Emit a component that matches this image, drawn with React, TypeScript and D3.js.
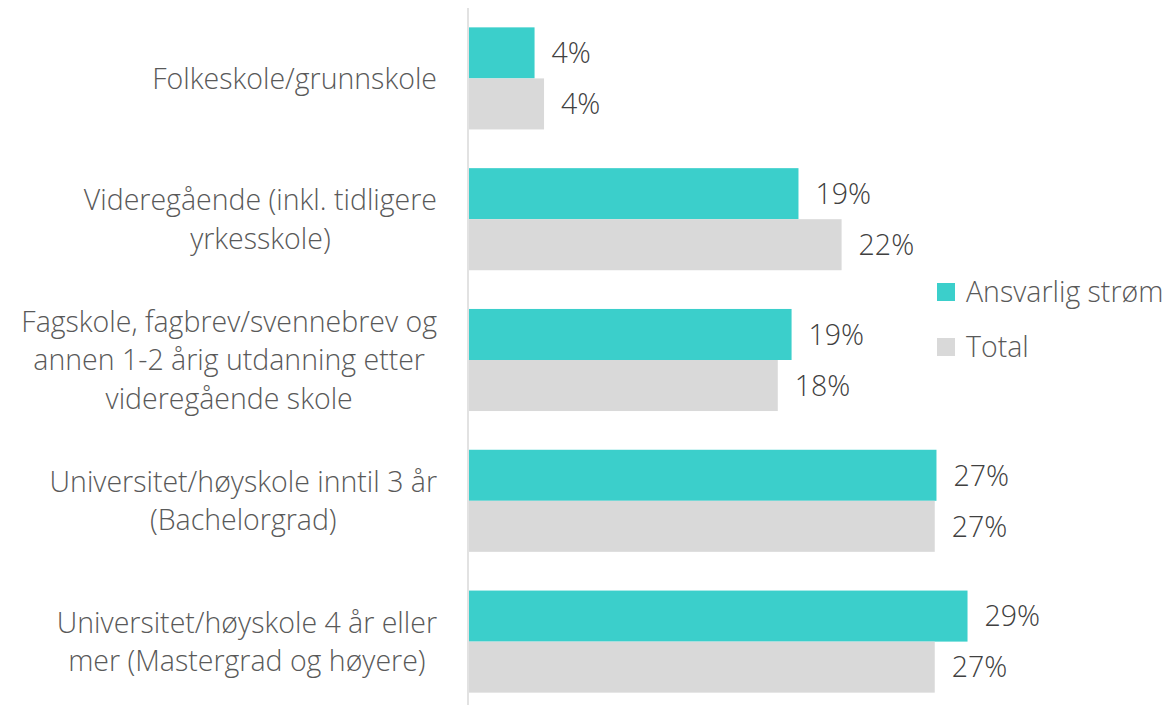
import React, { useEffect, useRef } from "react";
import * as d3 from "d3";

const categories: string[][] = [
  ["Folkeskole/grunnskole"],
  ["Videregående (inkl. tidligere", "yrkesskole)"],
  ["Fagskole, fagbrev/svennebrev og", "annen 1-2 årig utdanning etter", "videregående skole"],
  ["Universitet/høyskole inntil 3 år", "(Bachelorgrad)"],
  ["Universitet/høyskole 4 år eller", "mer (Mastergrad og høyere)"],
];
const seriesNames = ["Ansvarlig strøm", "Total"];
const ansvarlig = [3.8, 19.1, 18.7, 27.1, 28.9];
const total = [4.35, 21.6, 17.9, 27.0, 27.0];
const colors = ["#3BCFCB", "#D9D9D9"];

const W = 1169;
const H = 705;
const FONT = "'Open Sans', sans-serif";
const FS = 28.5;
const FW = 300;

export default function App() {
  const ref = useRef<SVGSVGElement>(null);
  useEffect(() => {
    const svg = d3.select(ref.current!);
    svg.selectAll("*").remove();

    const y = d3.scaleBand<number>().domain(d3.range(categories.length)).range([8, 712]).paddingInner(0.275).paddingOuter(0.1375);
    const sub = d3.scaleBand<number>().domain([0, 1]).range([0, y.bandwidth()]);
    const x = d3.scaleLinear().domain([0, 30]).range([469, 986.5]);
    const series = [ansvarlig, total];

    series.forEach((vals, s) => {
      const g = svg.append("g");
      g.selectAll("rect").data(vals).join("rect")
        .attr("x", x(0))
        .attr("y", (_, i) => y(i)! + sub(s)!)
        .attr("width", (d) => x(d) - x(0))
        .attr("height", sub.bandwidth())
        .attr("fill", colors[s]);
      g.selectAll("text").data(vals).join("text")
        .attr("x", (d) => x(d) + 17)
        .attr("y", (_, i) => y(i)! + sub(s)! + sub.bandwidth() / 2)
        .attr("dy", "0.36em")
        .attr("font-family", FONT)
        .attr("font-size", FS)
        .attr("font-weight", FW)
        .attr("fill", "#404040")
        .text((d) => `${Math.round(d)}%`);
    });

    svg.append("line")
      .attr("x1", 468).attr("x2", 468).attr("y1", 8).attr("y2", H)
      .attr("stroke", "#D9D9D9").attr("stroke-width", 1.5);

    const lineH = 38.5;
    categories.forEach((lines, i) => {
      const cy = y(i)! + y.bandwidth() / 2;
      const t = svg.append("text")
        .attr("font-family", FONT)
        .attr("font-size", FS)
        .attr("font-weight", FW)
        .attr("fill", "#595959")
        .attr("text-anchor", "middle");
      const spans = lines.map((ln, k) =>
        t.append("tspan")
          .attr("y", cy + (k - (lines.length - 1) / 2) * lineH)
          .attr("dy", "0.36em")
          .text(ln)
      );
      const maxW = d3.max(spans, (sp) => (sp.node() as SVGTSpanElement).getComputedTextLength()) || 0;
      const cx = 437 - maxW / 2;
      spans.forEach((sp) => sp.attr("x", cx));
    });

    const legend = svg.append("g");
    seriesNames.forEach((name, s) => {
      const cy = 292 + s * 55;
      legend.append("rect").attr("x", 937).attr("y", cy - 9).attr("width", 18).attr("height", 18).attr("fill", colors[s]);
      legend.append("text")
        .attr("x", 966).attr("y", cy).attr("dy", "0.36em")
        .attr("font-family", FONT).attr("font-size", FS).attr("font-weight", FW)
        .attr("fill", "#595959")
        .text(name);
    });
  }, []);

  return (
    <svg ref={ref} width={W} height={H} style={{ position: "absolute", left: 0, top: 0, background: "#fff" }} />
  );
}
